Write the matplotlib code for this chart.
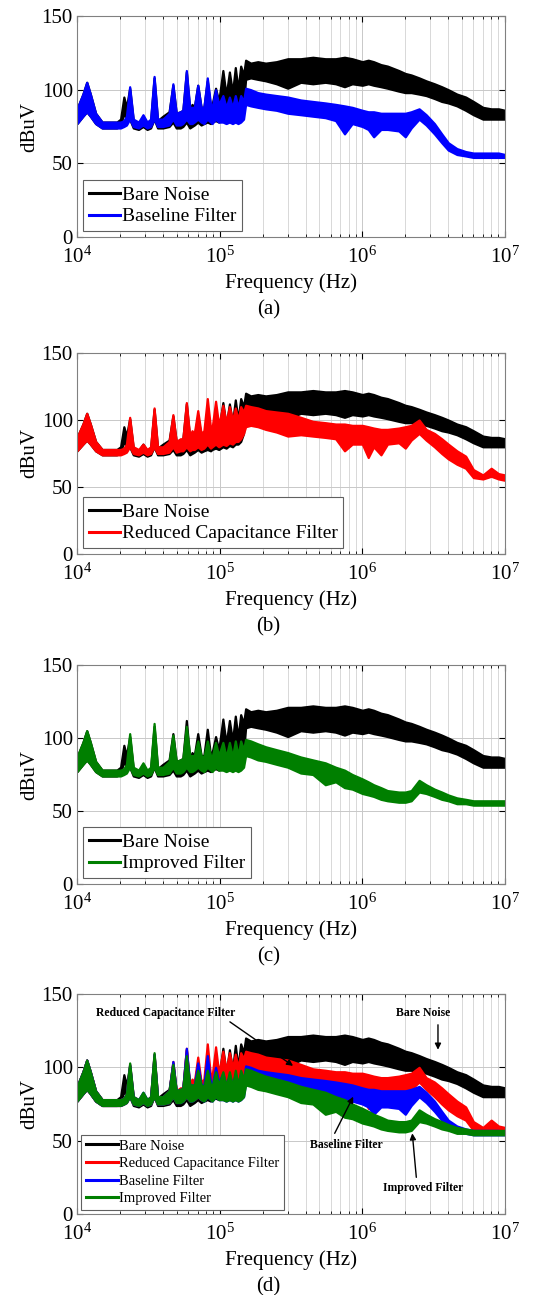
import matplotlib
matplotlib.use("Agg")
import matplotlib.pyplot as plt
from matplotlib.lines import Line2D

plt.rcParams['font.family'] = ['Liberation Serif', 'DejaVu Serif']
plt.rcParams['mathtext.fontset'] = 'stix'

# frequency grid (kHz), shared by all traces
freq_khz = [10, 11, 11.7, 12.4, 13.5, 15, 19, 20.2, 21.3, 22.2,
            23.4, 24.8, 27, 29, 31, 32.8, 34.7, 36.7, 40, 44.2,
            47, 49.6, 53, 55.2, 58.4, 61.7, 64, 66.4, 70.2, 74.1,
            77.5, 81.9, 86.3, 88.5, 93.6, 98.5, 105.3, 111, 117, 123,
            128.7, 134.5, 140.4, 147, 152, 165, 185, 210, 250, 300,
            370, 450, 550, 650, 750, 850, 1000, 1100, 1200, 1350,
            1500, 1800, 2000, 2200, 2500, 2800, 3200, 3600, 4000, 4600,
            5300, 6000, 7000, 8000, 9000, 10000]

# lower / upper edge of each noisy trace (dBuV)
bare_lo = [77, 82, 85, 82, 77, 74, 74, 76, 84, 80,
           80, 74, 73, 75, 73, 74, 80, 74, 74, 75,
           78, 74, 74, 75, 78, 74, 75, 76, 78, 76,
           77, 78, 77, 78, 79, 78, 80, 79, 81, 80,
           82, 82, 84, 90, 107, 108, 107, 106, 104, 101,
           105, 104, 105, 104, 102, 104, 103, 104, 103, 102,
           101, 99, 98, 98, 97, 96, 94, 92, 91, 89,
           86, 83, 80, 80, 80, 80]
bare_hi = [87, 97, 105, 97, 84, 78, 78, 80, 95, 88,
           101, 79, 77, 82, 77, 79, 108, 79, 82, 85,
           103, 84, 85, 86, 112, 86, 90, 88, 103, 88,
           88, 106, 88, 90, 101, 92, 113, 96, 112, 98,
           115, 100, 116, 110, 120, 118, 119, 118, 119, 121,
           121, 122, 121, 121, 122, 121, 119, 120, 119, 117,
           116, 113, 111, 110, 108, 106, 104, 102, 100, 97,
           95, 92, 88, 87, 87, 86]

reduced_lo = [77, 82, 85, 82, 77, 74, 74, 74, 75, 76,
              80, 75, 74, 76, 74, 75, 80, 75, 75, 76,
              80, 76, 77, 77, 80, 77, 78, 78, 80, 78,
              79, 82, 79, 80, 82, 80, 82, 81, 83, 82,
              84, 84, 86, 90, 95, 96, 95, 93, 91, 88,
              89, 88, 87, 86, 77, 82, 82, 72, 80, 74,
              82, 83, 79, 85, 90, 85, 80, 75, 71, 67,
              64, 57, 56, 58, 56, 55]
reduced_hi = [87, 97, 105, 97, 84, 78, 78, 78, 79, 82,
              102, 80, 78, 82, 78, 80, 109, 80, 80, 84,
              104, 84, 86, 86, 113, 88, 92, 90, 107, 90,
              92, 116, 94, 94, 114, 96, 111, 98, 110, 100,
              109, 100, 110, 106, 111, 110, 109, 107, 106, 105,
              102, 99, 98, 97, 97, 96, 96, 95, 94, 93,
              93, 94, 95, 96, 100, 93, 90, 86, 82, 77,
              73, 63, 59, 64, 60, 59]

baseline_lo = [77, 82, 85, 82, 77, 74, 74, 74, 75, 76,
               80, 75, 74, 76, 74, 75, 80, 75, 75, 76,
               80, 76, 76, 77, 80, 77, 77, 78, 80, 78,
               77, 80, 78, 77, 80, 78, 78, 77, 78, 77,
               78, 77, 78, 80, 90, 89, 88, 87, 86, 84,
               83, 82, 81, 79, 70, 77, 75, 73, 68, 73,
               73, 72, 68, 74, 80, 76, 70, 64, 59, 56,
               55, 54, 54, 54, 54, 54]
baseline_hi = [87, 97, 105, 97, 84, 78, 78, 78, 79, 82,
               102, 80, 78, 83, 78, 80, 109, 80, 80, 84,
               104, 84, 85, 86, 113, 88, 88, 88, 103, 88,
               88, 108, 90, 88, 100, 90, 96, 88, 95, 88,
               96, 88, 96, 92, 101, 100, 98, 97, 96, 95,
               93, 92, 91, 90, 89, 88, 86, 85, 85, 84,
               84, 84, 84, 85, 87, 83, 77, 70, 64, 60,
               58, 57, 57, 57, 57, 56]

improved_lo = [77, 82, 85, 82, 77, 74, 74, 74, 75, 76,
               80, 75, 74, 76, 74, 75, 80, 75, 75, 76,
               80, 76, 76, 77, 80, 77, 77, 78, 80, 78,
               77, 80, 78, 77, 80, 78, 78, 77, 78, 77,
               78, 77, 78, 80, 88, 87, 85, 84, 82, 80,
               76, 75, 68, 70, 66, 65, 62, 61, 60, 58,
               57, 56, 56, 57, 63, 62, 60, 58, 57, 55,
               55, 54, 54, 54, 54, 54]
improved_hi = [87, 97, 105, 97, 84, 78, 78, 78, 79, 82,
               103, 80, 78, 83, 78, 80, 110, 80, 80, 84,
               102, 84, 85, 86, 108, 88, 88, 88, 98, 88,
               87, 98, 88, 87, 97, 88, 97, 87, 97, 87,
               98, 88, 98, 92, 99, 98, 96, 94, 92, 90,
               87, 85, 83, 80, 78, 75, 72, 70, 68, 66,
               64, 63, 63, 64, 71, 68, 65, 63, 61, 59,
               58, 57, 57, 57, 57, 57]

freq_hz = [f * 1000 for f in freq_khz]

traces = {
    'Bare Noise': (bare_lo, bare_hi, 'black'),
    'Reduced Capacitance Filter': (reduced_lo, reduced_hi, '#ff0000'),
    'Baseline Filter': (baseline_lo, baseline_hi, '#0000ff'),
    'Improved Filter': (improved_lo, improved_hi, '#007f00'),
}

panels = [
    (['Bare Noise', 'Baseline Filter'], '(a)'),
    (['Bare Noise', 'Reduced Capacitance Filter'], '(b)'),
    (['Bare Noise', 'Improved Filter'], '(c)'),
    (['Bare Noise', 'Reduced Capacitance Filter', 'Baseline Filter', 'Improved Filter'], '(d)'),
]

W, H = 537, 1295
# axes top / bottom in pixels
ax_rows = [(16, 237), (353, 554), (665, 884), (994, 1214)]
ax_left, ax_right = 77, 505

fig = plt.figure(figsize=(W / 100, H / 100), dpi=100)

for (names, tag), (top, bot) in zip(panels, ax_rows):
    ax = fig.add_axes([ax_left / W, 1 - bot / H, (ax_right - ax_left) / W, (bot - top) / H])
    handles = []
    for name in names:
        lo, hi, color = traces[name]
        ax.fill_between(freq_hz, lo, hi, color=color, lw=1.6, edgecolor=color)
        handles.append(Line2D([], [], color=color, lw=2.2, label=name))
    ax.set_xscale('log')
    ax.set_xlim(1e4, 1e7)
    ax.set_ylim(0, 150)
    ax.set_yticks([0, 50, 100, 150])
    ax.grid(True, which='major', color='#c8c8c8', lw=0.7)
    ax.grid(True, which='minor', axis='x', color='#d2d2d2', lw=0.6)
    ax.set_axisbelow(True)
    ax.tick_params(which='both', direction='in', top=True, right=True, labelsize=15)
    ax.tick_params(axis='x', pad=7)
    ax.tick_params(axis='y', pad=3)
    ax.tick_params(which='major', length=4)
    ax.tick_params(which='minor', length=2)
    for s in ax.spines.values():
        s.set_color('#808080')
        s.set_linewidth(0.8)
    ax.set_ylabel('dBuV', fontsize=15, labelpad=2)
    ax.set_xlabel('Frequency (Hz)', fontsize=15, labelpad=4)
    ax.text(0.5, 1 - (bot + 73) / H, tag, transform=fig.transFigure, ha='center', va='center', fontsize=15)

    small = len(names) > 2
    leg = ax.legend(handles=handles, loc='lower left', fontsize=10.5 if small else 14,
                    frameon=True, fancybox=False, edgecolor='#606060', framealpha=1,
                    handlelength=1.6 if not small else 2.2, handletextpad=0.1,
                    borderaxespad=0.3, borderpad=0.3, labelspacing=0.2 if not small else 0.3)
    leg.get_frame().set_linewidth(0.8)

    if small:
        bold = dict(fontsize=8.5, fontweight='bold', ha='center', va='center')
        ax.text(4.19e4, 137, 'Reduced Capacitance Filter', **bold)
        ax.text(2.66e6, 137, 'Bare Noise', **bold)
        ax.text(7.78e5, 47, 'Baseline Filter', **bold)
        ax.text(2.66e6, 18, 'Improved Filter', **bold)
        arrow = dict(arrowstyle='-|>', color='black', lw=1.0, mutation_scale=9, shrinkA=0, shrinkB=0)
        ax.annotate('', xy=(3.27e5, 101), xytext=(1.18e5, 131), arrowprops=arrow)
        ax.annotate('', xy=(3.39e6, 112), xytext=(3.39e6, 129), arrowprops=arrow)
        ax.annotate('', xy=(8.63e5, 80), xytext=(6.4e5, 55), arrowprops=arrow)
        ax.annotate('', xy=(2.24e6, 55), xytext=(2.39e6, 25), arrowprops=arrow)

fig.savefig('out.png', dpi=100)
